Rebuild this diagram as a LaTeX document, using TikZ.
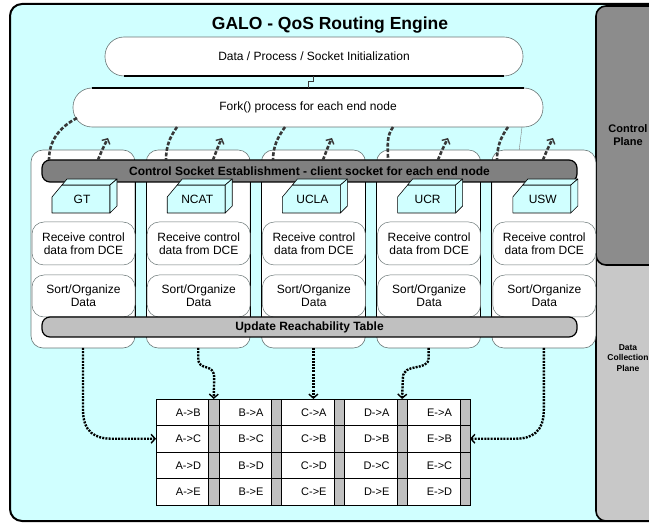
\documentclass[tikz,border=0pt]{standalone}
\usepackage{fontspec}
\setmainfont{Liberation Sans}
\usetikzlibrary{arrows.meta,calc}

\definecolor{panelcyan}{RGB}{208,255,255}
\definecolor{ctrlgray}{RGB}{140,140,140}
\definecolor{datagray}{RGB}{200,200,200}
\definecolor{bargray}{RGB}{128,128,128}
\definecolor{lightbar}{RGB}{192,192,192}
\definecolor{edgegray}{RGB}{105,118,118}
\definecolor{curvegray}{RGB}{56,56,56}

\begin{document}
\begin{tikzpicture}[x=1pt,y=-1pt,
  every node/.style={inner sep=0pt, outer sep=0pt},
  txt/.style={font=\fontsize{12}{13}\selectfont, align=center},
  pill/.style={draw=edgegray, line width=0.6pt, fill=white, rounded corners=19pt,
    minimum height=39pt, txt},
  colbox/.style={draw=edgegray, line width=0.6pt, fill=white, rounded corners=12pt,
    minimum width=104pt, minimum height=198pt},
  stage/.style={draw=edgegray, line width=0.5pt, fill=white, rounded corners=12pt,
    minimum width=103pt, txt},
  bar/.style={draw=black, line width=1.2pt, rounded corners=8pt, minimum width=535pt,
    font=\fontsize{12}{13}\selectfont\bfseries},
  site/.style={fill=panelcyan, draw=black, line width=0.6pt, line join=round},
  cell/.style={draw=black, line width=0.6pt, fill=white, minimum width=52.6pt,
    minimum height=26.5pt},
  strip/.style={draw=black, line width=0.6pt, fill=lightbar, minimum width=10.2pt,
    minimum height=26.5pt},
  celltxt/.style={font=\fontsize{11}{12}\selectfont},
  fork/.style={draw=curvegray, line width=2.6pt, dash pattern=on 3.8pt off 1.8pt},
  forkup/.style={fork, -{Straight Barb[length=4pt,width=9pt,line width=1.4pt]}},
  feed/.style={draw=black, line width=2.4pt, dash pattern=on 2pt off 1.2pt,
    -{Straight Barb[length=4pt,width=9pt,line width=1.4pt]}},
]
\useasboundingbox (0,0) rectangle (649,524);
\clip (0,0) rectangle (649,524);

% engine panel
\draw[fill=panelcyan, draw=black, line width=2pt, rounded corners=12pt]
  (10,4) rectangle (680,521);

% plane panels on the right
\draw[fill=datagray, draw=black, line width=1.6pt, rounded corners=10pt]
  (596,250) rectangle (680,521);
\draw[fill=ctrlgray, draw=black, line width=1.6pt, rounded corners=10pt]
  (596,6) rectangle (680,265);
\node[font=\fontsize{11}{13}\selectfont\bfseries, align=center] (cplane) at (628,135)
  {Control\\Plane};
\node[font=\fontsize{8.5}{10.5}\selectfont\bfseries, align=center] (dplane) at (628,358)
  {Data\\Collection\\Plane};

% title
\node[font=\fontsize{17.5}{20}\selectfont\bfseries] (title) at (330,25)
  {GALO - QoS Routing Engine};

% initialisation and fork stages
\node[pill, minimum width=418pt] (init) at (314,56.5)
  {Data / Process / Socket Initialization};
\draw[black, line width=1.2pt] ($(init.south west)+(19,0)$) -- ($(init.south east)+(-19,0)$);
\node[pill, minimum width=470pt] (forkbox) at (308,107.5)
  {Fork() process for each end node};
\draw[black, line width=1.2pt] ($(forkbox.north west)+(19,0)$) -- ($(forkbox.north east)+(-19,0)$);
\draw[curvegray, line width=0.6pt] (init.south -| 313,0) -- (313,81) -- (308,81)
  -- (forkbox.north -| 308,0);
\coordinate (thinA) at (522,127);
\coordinate (thinB) at (518,160);
\draw[gray, line width=0.4pt] (thinA) -- (thinB);

% per-node columns
\foreach \i [count=\n] in {0,...,4}{
  \pgfmathsetmacro{\c}{31+115.2*\i}
  \node[colbox] (col\n) at (\c+52,249) {};
}
% pipes between columns
\foreach \i in {0,...,3}{
  \pgfmathsetmacro{\c}{31+115.2*\i}
  \fill[panelcyan] (\c+104,182) rectangle (\c+115.2,317);
  \draw[black, line width=0.8pt] (\c+104,182) -- (\c+104,317);
  \draw[black, line width=0.8pt] (\c+115.2,182) -- (\c+115.2,317);
}
\foreach \i [count=\n] in {0,...,4}{
  \pgfmathsetmacro{\c}{31+115.2*\i}
  \node[stage, minimum height=43pt] (recv\n) at (\c+52.5,243.5)
    {Receive control\\data from DCE};
  \node[stage, minimum height=42pt] (sort\n) at (\c+52.5,296)
    {Sort/Organize\\Data};
}

% socket and reachability bars
\node[bar, fill=bargray, minimum height=22pt] (ctrlbar) at (309.5,171)
  {Control Socket Establishment - client socket for each end node};
\node[bar, fill=lightbar, minimum height=20pt] (updbar) at (309.5,327)
  {Update Reachability Table};

% end node tags
\foreach \name [count=\n] in {GT,NCAT,UCLA,UCR,USW}{
  \pgfmathsetmacro{\d}{115.2*(\n-1)}
  \begin{scope}[xshift=\d pt]
    \draw[site] (52,213) -- (52,197) -- (62,185) -- (110,185) -- (110,213) -- cycle;
    \draw[site] (62,185) -- (67,179) -- (117,179) -- (110,185) -- cycle;
    \draw[site] (110,185) -- (117,179) -- (117,206) -- (110,213) -- cycle;
    \node[txt] (site\n) at (82,199) {\name};
  \end{scope}
}

% fork links between the fork stage and each column
\coordinate (fs1) at (77,118);  \coordinate (fe1) at (49,160);
\coordinate (fs2) at (177,127); \coordinate (fe2) at (166,160);
\coordinate (fs3) at (285,127); \coordinate (fe3) at (273,160);
\coordinate (fs4) at (393,127); \coordinate (fe4) at (388,160);
\coordinate (fs5) at (508,127); \coordinate (fe5) at (497,160);
\coordinate (us1) at (98,160);  \coordinate (ue1) at (108,138);
\coordinate (us2) at (213,160); \coordinate (ue2) at (222,138);
\coordinate (us3) at (323,160); \coordinate (ue3) at (332,138);
\coordinate (us4) at (438,160); \coordinate (ue4) at (448,138);
\coordinate (us5) at (543,160); \coordinate (ue5) at (553,138);
\draw[fork] (fs1) .. controls (58,128) and (49,142) .. (fe1);
\foreach \n in {2,...,5}{
  \draw[fork] (fs\n) .. controls ($(fs\n)+(-7,10)$) and ($(fe\n)+(0,-14)$) .. (fe\n);
}
\foreach \n in {1,...,5}{
  \draw[forkup] (us\n) .. controls ($(us\n)+(3,-8)$) and ($(ue\n)+(-3,6)$) .. (ue\n);
}

% reachability table
\foreach \col [count=\k] in {A,B,C,D,E}{
  \pgfmathsetmacro{\gx}{156+62.8*(\k-1)}
  \foreach \row in {1,...,4}{
    \node[cell] (\col\row) at (\gx+26.3,399+26.5*\row-13.25) {};
    \node[strip] (strip\col\row) at (\gx+57.7,399+26.5*\row-13.25) {};
  }
}
\foreach \col/\a/\b/\c/\d in {A/B/C/D/E, B/A/C/D/E, C/A/B/D/E, D/A/B/C/E, E/A/B/C/D}{
  \node[celltxt] at ($(\col1)+(6,0)$) {\col->\a};
  \node[celltxt] at ($(\col2)+(6,0)$) {\col->\b};
  \node[celltxt] at ($(\col3)+(6,0)$) {\col->\c};
  \node[celltxt] at ($(\col4)+(6,0)$) {\col->\d};
}

% feeds into the table
\draw[feed] (col1.south) -- (83,410) .. controls (83,432) and (95,438.75) .. (112,438.75)
  -- (A2.west);
\draw[feed] (col2.south) -- (198.2,358) .. controls (198.2,372) and (214.2,362) .. (214.2,378)
  -- (stripA1.north);
\draw[feed] (col3.south) -- (col3.south |- C1.north);
\draw[feed] (col4.south) -- (428.6,358) .. controls (428.6,372) and (402.9,362) .. (402.9,378)
  -- (stripD1.north);
\draw[feed] (col5.south) -- (543.8,410) .. controls (543.8,432) and (532,438.75) .. (515,438.75)
  -- (stripE2.east);
\end{tikzpicture}
\end{document}
